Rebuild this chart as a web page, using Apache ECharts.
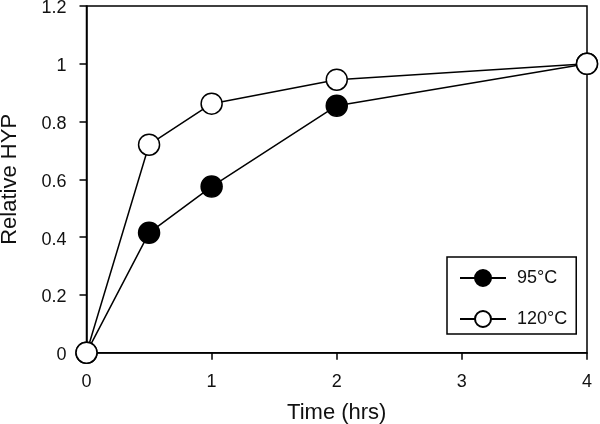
<!DOCTYPE html>
<html><head><meta charset="utf-8">
<script src="https://cdn.jsdelivr.net/npm/echarts@6/dist/echarts.min.js"></script>
<style>html,body{margin:0;padding:0;background:#fff}#c{width:600px;height:424px}</style>
</head><body><div id="c"></div>
<script>
const timeHrs = [0, 0.5, 1, 2, 4];
const hyp95 = [0, 0.415, 0.575, 0.855, 1.0];
const hyp120 = [0, 0.72, 0.862, 0.945, 1.0];
const seriesNames = ['95°C', '120°C'];
const xTicks = [0, 1, 2, 3, 4];
const yTicks = [0, 0.2, 0.4, 0.6, 0.8, 1, 1.2];

const font = 'Liberation Sans, Arial, sans-serif';
const chart = echarts.init(document.getElementById('c'), null, {renderer: 'canvas'});
const pair = (xs, ys) => xs.map((x, i) => [x, ys[i]]);

chart.setOption({
  animation: false,
  backgroundColor: '#fff',
  grid: {left: 86.5, right: 13, top: 6, bottom: 71.3, outerBoundsMode: 'none', containLabel: false,
    show: true, borderColor: '#000', borderWidth: 1.5, backgroundColor: 'transparent'},
  xAxis: {
    type: 'value', min: xTicks[0], max: xTicks[xTicks.length - 1], interval: 1,
    name: 'Time (hrs)', nameLocation: 'middle', nameGap: 49,
    nameTextStyle: {fontFamily: font, fontSize: 22, color: '#111', verticalAlign: 'top'},
    axisLine: {onZero: false, lineStyle: {color: '#000', width: 1.5}},
    axisTick: {inside: false, length: 7, lineStyle: {color: '#000', width: 1.5}},
    axisLabel: {fontFamily: font, fontSize: 18, color: '#111', margin: 20},
    splitLine: {show: false}
  },
  yAxis: {
    type: 'value', min: yTicks[0], max: yTicks[yTicks.length - 1], interval: 0.2,
    name: 'Relative HYP', nameLocation: 'middle', nameGap: 66,
    nameTextStyle: {fontFamily: font, fontSize: 22, color: '#111'},
    axisLine: {onZero: false, lineStyle: {color: '#000', width: 1.5}},
    axisTick: {inside: false, length: 7, lineStyle: {color: '#000', width: 1.5}},
    axisLabel: {fontFamily: font, fontSize: 18, color: '#111', margin: 20,
      verticalAlign: 'top', lineHeight: 5,
      formatter: v => String(Math.round(v * 10) / 10)},
    splitLine: {show: false}
  },
  legend: {
    orient: 'vertical', left: 447, top: 257,
    itemWidth: 46, itemHeight: 20, itemGap: 23,
    padding: [12, 9, 6, 12],
    borderColor: '#000', borderWidth: 1.5,
    textStyle: {fontFamily: font, fontSize: 18, color: '#111', padding: [0, 0, 0, 6]},
    data: seriesNames
  },
  series: [
    {
      name: seriesNames[0], type: 'line', data: pair(timeHrs, hyp95), clip: false,
      symbol: 'circle', symbolSize: 21, z: 2,
      lineStyle: {color: '#000', width: 1.5},
      itemStyle: {color: '#000', borderColor: '#000', borderWidth: 1.5}
    },
    {
      name: seriesNames[1], type: 'line', data: pair(timeHrs, hyp120), clip: false,
      symbol: 'circle', symbolSize: 21, z: 3,
      lineStyle: {color: '#000', width: 1.5},
      itemStyle: {color: '#fff', borderColor: '#000', borderWidth: 1.5}
    }
  ]
});
</script></body></html>
